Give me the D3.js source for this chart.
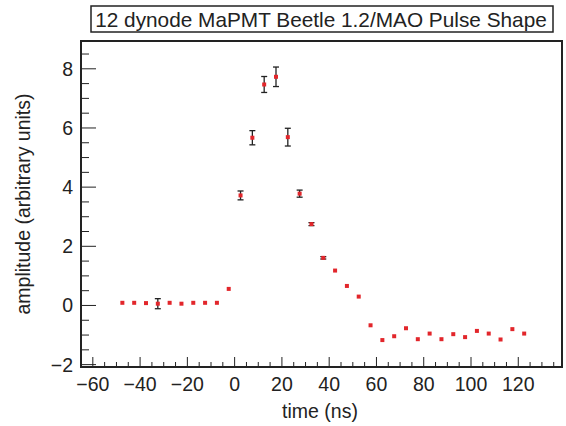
<!DOCTYPE html>
<html>
<head>
<meta charset="utf-8">
<script src="https://cdn.jsdelivr.net/npm/d3@7"></script>
<style>
  body { margin: 0; background: #fff; }
  svg { font-family: "Liberation Sans", Arial, sans-serif; }
</style>
</head>
<body>
<div id="box"></div>
<script>
// pulse samples (ns) and amplitudes
const times = [-47.5, -42.5, -37.5, -32.5, -27.5, -22.5, -17.5, -12.5, -7.5, -2.5,
  2.5, 7.5, 12.5, 17.5, 22.5, 27.5, 32.5, 37.5, 42.5, 47.5,
  52.5, 57.5, 62.5, 67.5, 72.5, 77.5, 82.5, 87.5, 92.5, 97.5,
  102.5, 107.5, 112.5, 117.5, 122.5];
const amplitude = [0.09, 0.09, 0.08, 0.06, 0.09, 0.06, 0.09, 0.09, 0.09, 0.56,
  3.72, 5.67, 7.47, 7.73, 5.69, 3.78, 2.75, 1.61, 1.18, 0.66,
  0.30, -0.67, -1.17, -1.04, -0.77, -1.14, -0.95, -1.14, -0.97, -1.07,
  -0.86, -0.95, -1.15, -0.80, -0.95];
const errors = [0, 0, 0, 0.17, 0, 0, 0, 0, 0, 0,
  0.15, 0.24, 0.27, 0.33, 0.30, 0.12, 0.05, 0.04, 0, 0,
  0, 0, 0, 0, 0, 0, 0, 0, 0, 0,
  0, 0, 0, 0, 0];
const xTicks = [-60, -40, -20, 0, 20, 40, 60, 80, 100, 120];
const yTicks = [-2, 0, 2, 4, 6, 8];

const width = 566, height = 426;
const frame = {left: 81, right: 562, top: 41, bottom: 367};

const svg = d3.select("#box").append("svg")
  .attr("width", width)
  .attr("height", height);

const x = d3.scaleLinear().domain([-65, 138.5]).range([frame.left, frame.right]);
const y = d3.scaleLinear().domain([-2.08, 8.94]).range([frame.bottom, frame.top]);

const ink = "#222";
const fmt = d => d < 0 ? "\u2212" + Math.abs(d) : d;

// minor + major ticks, ROOT style (drawn inside the frame)
const xMinor = d3.range(-65, 139, 5);
svg.append("g")
  .selectAll("line")
  .data(xMinor)
  .join("line")
  .attr("x1", d => x(d)).attr("x2", d => x(d))
  .attr("y1", frame.bottom)
  .attr("y2", d => frame.bottom - (d % 20 === 0 ? 10 : 5))
  .attr("stroke", ink)
  .attr("stroke-width", 1);

const yMinor = d3.range(-2, 9, 0.5);
svg.append("g")
  .selectAll("line")
  .data(yMinor)
  .join("line")
  .attr("y1", d => y(d)).attr("y2", d => y(d))
  .attr("x1", frame.left)
  .attr("x2", d => frame.left + (Math.abs(d % 2) < 1e-9 ? 15 : 8))
  .attr("stroke", ink)
  .attr("stroke-width", 1);

// tick labels
svg.append("g")
  .style("font-size", "19.5px")
  .attr("fill", ink)
  .attr("text-anchor", "middle")
  .selectAll("text")
  .data(xTicks)
  .join("text")
  .attr("x", d => x(d))
  .attr("y", frame.bottom + 24)
  .text(fmt);

svg.append("g")
  .style("font-size", "19.5px")
  .attr("fill", ink)
  .attr("text-anchor", "end")
  .selectAll("text")
  .data(yTicks)
  .join("text")
  .attr("x", frame.left - 8)
  .attr("y", d => y(d) + 7)
  .text(fmt);

// frame
svg.append("rect")
  .attr("x", frame.left).attr("y", frame.top)
  .attr("width", frame.right - frame.left)
  .attr("height", frame.bottom - frame.top)
  .attr("fill", "none")
  .attr("stroke", ink)
  .attr("stroke-width", 2);

// axis titles
svg.append("text")
  .attr("x", 320).attr("y", 418)
  .attr("text-anchor", "middle")
  .attr("fill", ink)
  .style("font-size", "19.5px")
  .text("time (ns)");

svg.append("text")
  .attr("transform", "translate(30,204) rotate(-90)")
  .attr("text-anchor", "middle")
  .attr("fill", ink)
  .style("font-size", "19.5px")
  .text("amplitude (arbitrary units)");

// title box
const title = svg.append("g");
title.append("rect")
  .attr("x", 91).attr("y", 6)
  .attr("width", 462).attr("height", 26)
  .attr("fill", "#fff")
  .attr("stroke", ink)
  .attr("stroke-width", 1.5);
title.append("text")
  .attr("x", 321).attr("y", 27)
  .attr("text-anchor", "middle")
  .attr("fill", ink)
  .style("font-size", "20.8px")
  .text("12 dynode MaPMT Beetle 1.2/MAO Pulse Shape");

// data
const pts = times.map((t, i) => ({t, a: amplitude[i], e: errors[i]}));

const bars = svg.append("g")
  .attr("stroke", ink)
  .attr("stroke-width", 1.3)
  .selectAll("g")
  .data(pts.filter(d => d.e > 0))
  .join("g");
bars.append("line")
  .attr("x1", d => x(d.t)).attr("x2", d => x(d.t))
  .attr("y1", d => y(d.a - d.e)).attr("y2", d => y(d.a + d.e));
bars.append("line")
  .attr("x1", d => x(d.t) - 3).attr("x2", d => x(d.t) + 3)
  .attr("y1", d => y(d.a - d.e)).attr("y2", d => y(d.a - d.e));
bars.append("line")
  .attr("x1", d => x(d.t) - 3).attr("x2", d => x(d.t) + 3)
  .attr("y1", d => y(d.a + d.e)).attr("y2", d => y(d.a + d.e));

svg.append("g")
  .selectAll("rect")
  .data(pts)
  .join("rect")
  .attr("x", d => x(d.t) - 2)
  .attr("y", d => y(d.a) - 2)
  .attr("width", 4)
  .attr("height", 4)
  .attr("fill", "#e2262b");
</script>
</body>
</html>
